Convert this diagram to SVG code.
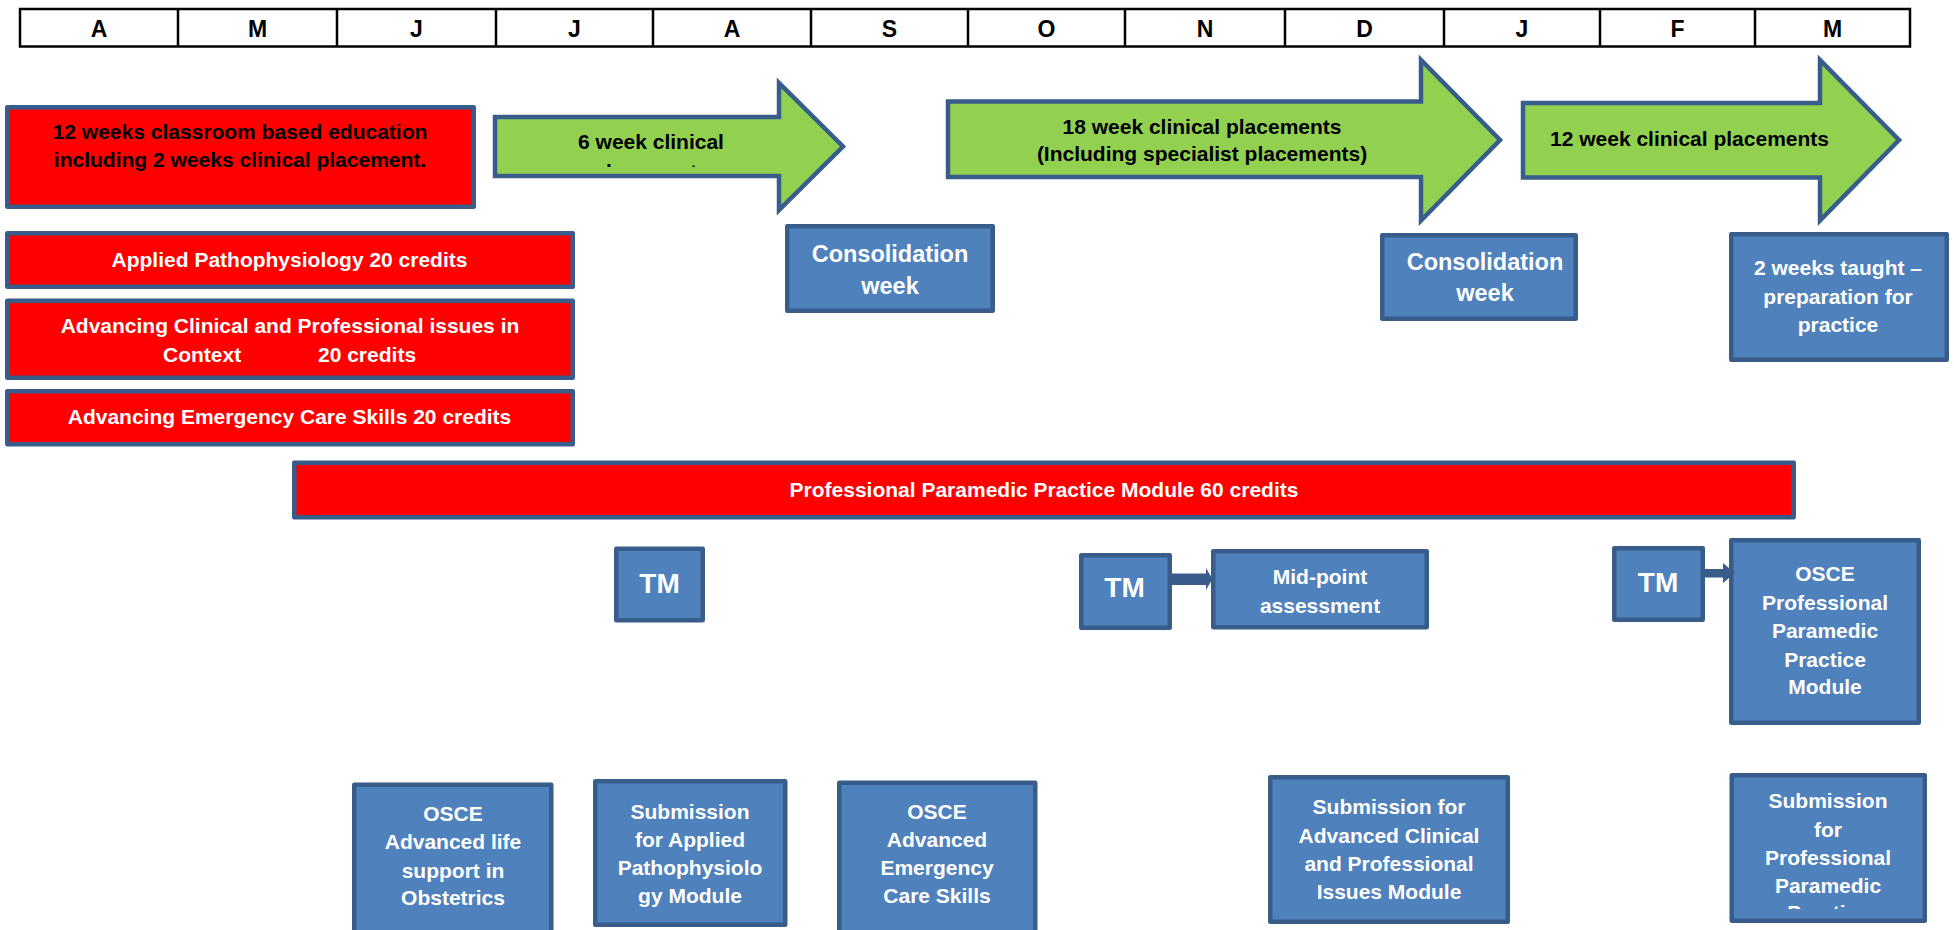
<svg xmlns="http://www.w3.org/2000/svg" width="1954" height="930" viewBox="0 0 1954 930">
<style>
text{font-family:"Liberation Sans",Arial,sans-serif;font-weight:bold;}
.hdr{font-size:23px;fill:#000;text-anchor:middle;}
.red{fill:#FF0000;stroke:#385D8A;stroke-width:4.5;stroke-linejoin:round;}
.blue{fill:#4F81BD;stroke:#385D8A;stroke-width:4.5;stroke-linejoin:round;}
.green{fill:#92D050;stroke:#385D8A;stroke-width:4.5;stroke-linejoin:miter;}
.wt{fill:#FFFFFF;font-size:21px;text-anchor:middle;}
.bk{fill:#000000;font-size:21px;text-anchor:middle;}
.tm{fill:#FFFFFF;font-size:28px;text-anchor:middle;}
.con{fill:#385D8A;}
</style>
<defs>
<clipPath id="clipA"><rect x="480" y="100" width="330" height="67"/></clipPath>
<clipPath id="clipB"><rect x="1730" y="770" width="200" height="139"/></clipPath>
</defs>

<g id="header">
<rect x="20" y="9" width="1890" height="37.5" fill="#FFFFFF" stroke="#000" stroke-width="2.5"/>
<g stroke="#000" stroke-width="2.5">
<line x1="178" y1="9" x2="178" y2="46.5"/><line x1="337" y1="9" x2="337" y2="46.5"/>
<line x1="496" y1="9" x2="496" y2="46.5"/><line x1="653" y1="9" x2="653" y2="46.5"/>
<line x1="811" y1="9" x2="811" y2="46.5"/><line x1="968" y1="9" x2="968" y2="46.5"/>
<line x1="1125" y1="9" x2="1125" y2="46.5"/><line x1="1285" y1="9" x2="1285" y2="46.5"/>
<line x1="1444" y1="9" x2="1444" y2="46.5"/><line x1="1600" y1="9" x2="1600" y2="46.5"/>
<line x1="1755" y1="9" x2="1755" y2="46.5"/>
</g>
<text class="hdr" x="99" y="36.5">A</text>
<text class="hdr" x="257.5" y="36.5">M</text>
<text class="hdr" x="416.5" y="36.5">J</text>
<text class="hdr" x="574.5" y="36.5">J</text>
<text class="hdr" x="732" y="36.5">A</text>
<text class="hdr" x="889.5" y="36.5">S</text>
<text class="hdr" x="1046.5" y="36.5">O</text>
<text class="hdr" x="1205" y="36.5">N</text>
<text class="hdr" x="1364.5" y="36.5">D</text>
<text class="hdr" x="1522" y="36.5">J</text>
<text class="hdr" x="1677.5" y="36.5">F</text>
<text class="hdr" x="1832.5" y="36.5">M</text>
</g>

<g id="classroom">
<rect class="red" x="7.25" y="107.25" width="466.5" height="99.5"/>
<text class="bk" x="240" y="138.5">12 weeks classroom based education</text>
<text class="bk" x="240" y="167">including 2 weeks clinical placement.</text>
</g>

<g id="placement6">
<path class="green" d="M495,117 H779 V83 L843,146.5 L779,210 V176 H495 Z"/>
<text class="bk" x="651" y="149">6 week clinical</text>
<text class="bk" x="651" y="178.5" clip-path="url(#clipA)">placements</text>
</g>

<g id="placement18">
<path class="green" d="M948,101.5 H1421 V60 L1500,140 L1421,220.5 V177 H948 Z"/>
<text class="bk" x="1202" y="134">18 week clinical placements</text>
<text class="bk" x="1202" y="161">(Including specialist placements)</text>
</g>

<g id="placement12">
<path class="green" d="M1523,103 H1820 V60 L1899,140 L1820,220.5 V177.5 H1523 Z"/>
<text class="bk" x="1689.5" y="146">12 week clinical placements</text>
</g>

<g id="applied">
<rect class="red" x="7.25" y="233.25" width="565.5" height="53.5"/>
<text class="wt" x="289.5" y="266.5">Applied Pathophysiology 20 credits</text>
</g>

<g id="advclinical">
<rect class="red" x="7.25" y="300.75" width="565.5" height="77"/>
<text class="wt" x="290" y="332.5">Advancing Clinical and Professional issues in</text>
<text class="wt" style="text-anchor:start" y="361.5"><tspan x="163">Context</tspan><tspan x="318">20 credits</tspan></text>
</g>

<g id="advemergency">
<rect class="red" x="7.25" y="391.25" width="565.5" height="53"/>
<text class="wt" x="289.5" y="424">Advancing Emergency Care Skills 20 credits</text>
</g>

<g id="ppp">
<rect class="red" x="294.25" y="462.75" width="1499.5" height="54.5"/>
<text class="wt" x="1044" y="496.5">Professional Paramedic Practice Module 60 credits</text>
</g>

<g id="consolidation1">
<rect class="blue" x="787.25" y="226.25" width="205.5" height="84.5"/>
<text class="wt" style="font-size:23.5px" x="890" y="261.5">Consolidation</text>
<text class="wt" style="font-size:23.5px" x="890" y="293.5">week</text>
</g>

<g id="consolidation2">
<rect class="blue" x="1382.25" y="235.25" width="193.5" height="83.5"/>
<text class="wt" style="font-size:23.5px" x="1485" y="270">Consolidation</text>
<text class="wt" style="font-size:23.5px" x="1485" y="301">week</text>
</g>

<g id="taught">
<rect class="blue" x="1731.25" y="234.25" width="215.5" height="125.5"/>
<text class="wt" x="1838" y="275">2 weeks taught –</text>
<text class="wt" x="1838" y="303.5">preparation for</text>
<text class="wt" x="1838" y="331.5">practice</text>
</g>

<g id="tm1">
<rect class="blue" x="616.25" y="548.75" width="86.5" height="71.5"/>
<text class="tm" x="659.5" y="592.5">TM</text>
</g>

<g id="tm2">
<rect class="blue" x="1081.25" y="555.25" width="88.5" height="72.5"/>
<text class="tm" x="1124.5" y="596.5">TM</text>
</g>

<g id="midpoint">
<rect class="blue" x="1213.25" y="551.25" width="213.5" height="76"/>
<text class="wt" x="1320" y="584">Mid-point</text>
<text class="wt" x="1320" y="612.5">assessment</text>
</g>

<g id="tm3">
<rect class="blue" x="1614.25" y="548.25" width="88.5" height="71.5"/>
<text class="tm" x="1658" y="591.5">TM</text>
</g>

<g id="osceppp">
<rect class="blue" x="1731.25" y="540.25" width="187.5" height="182.5"/>
<text class="wt" x="1825" y="581">OSCE</text>
<text class="wt" x="1825" y="610">Professional</text>
<text class="wt" x="1825" y="638">Paramedic</text>
<text class="wt" x="1825" y="666.5">Practice</text>
<text class="wt" x="1825" y="694">Module</text>
</g>

<g id="osceals">
<rect class="blue" x="354.25" y="784.75" width="197" height="150"/>
<text class="wt" x="453" y="821">OSCE</text>
<text class="wt" x="453" y="849">Advanced life</text>
<text class="wt" x="453" y="877.5">support in</text>
<text class="wt" x="453" y="904.5">Obstetrics</text>
</g>

<g id="subapplied">
<rect class="blue" x="595.25" y="781.25" width="190" height="143.5"/>
<text class="wt" x="690" y="819">Submission</text>
<text class="wt" x="690" y="846.5">for Applied</text>
<text class="wt" x="690" y="875">Pathophysiolo</text>
<text class="wt" x="690" y="902.5">gy Module</text>
</g>

<g id="osceaec">
<rect class="blue" x="839.25" y="782.75" width="196" height="152"/>
<text class="wt" x="937" y="819">OSCE</text>
<text class="wt" x="937" y="846.5">Advanced</text>
<text class="wt" x="937" y="875">Emergency</text>
<text class="wt" x="937" y="902.5">Care Skills</text>
</g>

<g id="subadvclin">
<rect class="blue" x="1270.25" y="777.25" width="237.5" height="144.5"/>
<text class="wt" x="1389" y="814">Submission for</text>
<text class="wt" x="1389" y="842.5">Advanced Clinical</text>
<text class="wt" x="1389" y="871">and Professional</text>
<text class="wt" x="1389" y="898.5">Issues Module</text>
</g>

<g id="subppp">
<rect class="blue" x="1731.75" y="775.25" width="193" height="145.5"/>
<text class="wt" x="1828" y="807.5">Submission</text>
<text class="wt" x="1828" y="836.5">for</text>
<text class="wt" x="1828" y="865">Professional</text>
<text class="wt" x="1828" y="892.5">Paramedic</text>
<text class="wt" x="1828" y="920" clip-path="url(#clipB)">Practice</text>
</g>

<g id="connectors">
<path class="con" d="M1171,573.5 H1206 V568 L1212.5,579 L1206,590 V585 H1171 Z"/>
<path class="con" d="M1704,569 H1723 V563 L1735,573 L1723,583 V577.5 H1704 Z"/>
</g>
</svg>
